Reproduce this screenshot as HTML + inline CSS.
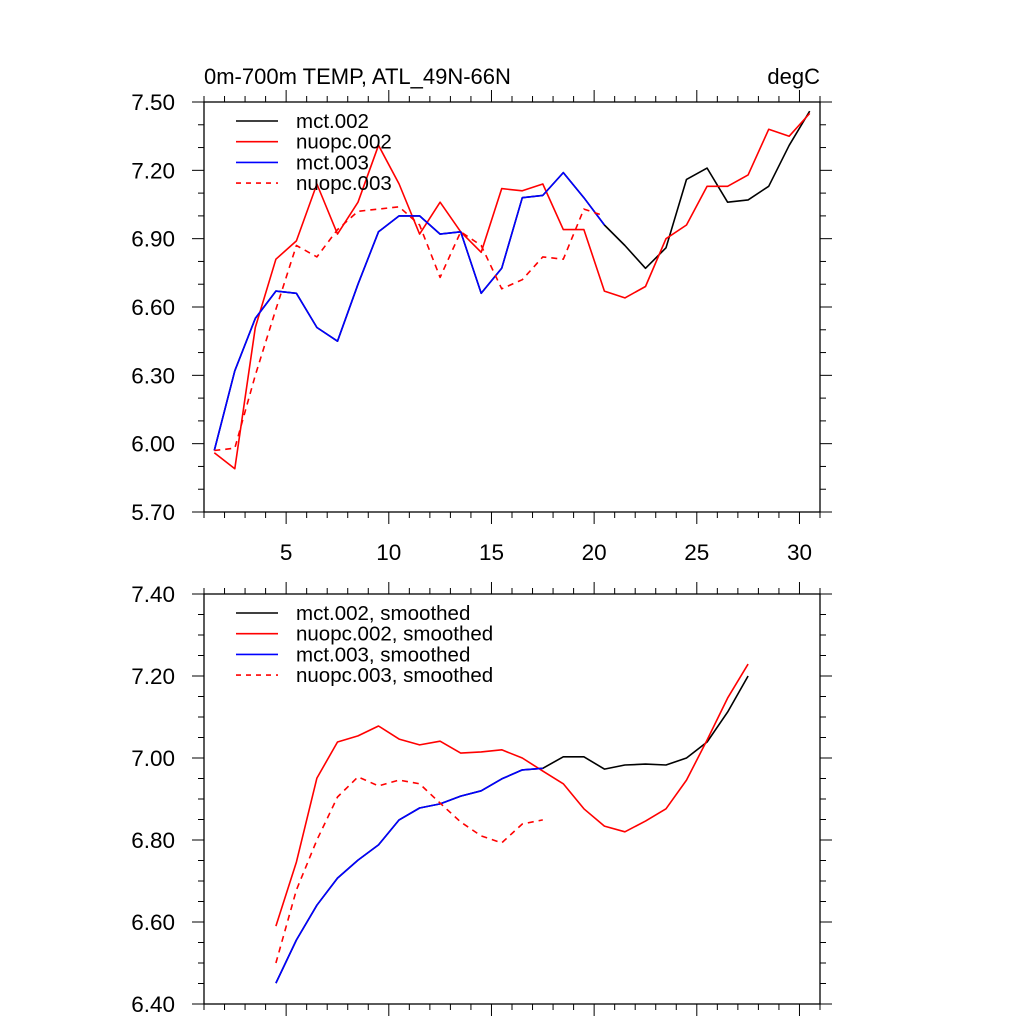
<!DOCTYPE html>
<html><head><meta charset="utf-8"><style>
html,body{margin:0;padding:0;background:#fff;}
svg{display:block;font-family:"Liberation Sans",Arial,sans-serif;}
</style></head><body>
<svg id="chart" width="1024" height="1024" viewBox="0 0 1024 1024" xmlns="http://www.w3.org/2000/svg"></svg>
<script>
// ---- data ----
const xStart = 1.5;
const top_mct002 = [5.97,6.32,6.55,6.67,6.66,6.51,6.45,6.70,6.93,7.00,7.00,6.92,6.93,6.66,6.77,7.08,7.09,7.19,7.08,6.96,6.87,6.77,6.86,7.16,7.21,7.06,7.07,7.13,7.31,7.46];
const top_nuopc002 = [5.96,5.89,6.51,6.81,6.89,7.14,6.92,7.06,7.31,7.14,6.92,7.06,6.93,6.84,7.12,7.11,7.14,6.94,6.94,6.67,6.64,6.69,6.90,6.96,7.13,7.13,7.18,7.38,7.35,7.45];
const top_mct003 = [5.97,6.32,6.55,6.67,6.66,6.51,6.45,6.70,6.93,7.00,7.00,6.92,6.93,6.66,6.77,7.08,7.09,7.19,7.08,6.96];
const top_nuopc003 = [5.97,5.98,6.30,6.59,6.87,6.82,6.94,7.02,7.03,7.04,6.96,6.73,6.93,6.87,6.68,6.72,6.82,6.81,7.03,7.00];
const smStart = 4.5;
const bot_mct002 = [6.451,6.556,6.641,6.707,6.751,6.788,6.849,6.878,6.888,6.907,6.920,6.949,6.971,6.975,7.003,7.003,6.973,6.983,6.985,6.983,7.000,7.039,7.112,7.200];
const bot_nuopc002 = [6.590,6.746,6.951,7.039,7.054,7.078,7.046,7.032,7.041,7.012,7.015,7.020,7.000,6.968,6.937,6.876,6.834,6.820,6.846,6.876,6.946,7.044,7.146,7.229];
const bot_mct003 = [6.451,6.556,6.641,6.707,6.751,6.788,6.849,6.878,6.888,6.907,6.920,6.949,6.971,6.975];
const bot_nuopc003 = [6.500,6.678,6.800,6.905,6.954,6.932,6.946,6.937,6.890,6.844,6.810,6.793,6.839,6.849];
const topYTicks = ["5.70","6.00","6.30","6.60","6.90","7.20","7.50"];
const botYTicks = ["6.40","6.60","6.80","7.00","7.20","7.40"];
const xTickLabels = ["5","10","15","20","25","30"];
const topLegend = ["mct.002","nuopc.002","mct.003","nuopc.003"];
const botLegend = ["mct.002, smoothed","nuopc.002, smoothed","mct.003, smoothed","nuopc.003, smoothed"];

const NS="http://www.w3.org/2000/svg";
const svg=document.getElementById('chart');
function mk(tag,attrs,parent){const e=document.createElementNS(NS,tag);for(const k in attrs)e.setAttribute(k,attrs[k]);(parent||svg).appendChild(e);return e;}

const L=204,R=820;
const xs=v=>L+(v-1)*(R-L)/30;
const colors=["#000","#f00","#00f","#f00"];
const dashes=[null,null,null,"6,5"];

function panel(name,T,B,ymin,ymax,minorStep,yTicks,series,start,legend,legY,showX){
  const g=mk('g',{});
  
  
  const ys=v=>B-(v-ymin)*(B-T)/(ymax-ymin);
  const frame=mk('rect',{x:L,y:T,width:R-L,height:B-T,fill:'none',stroke:'#000','stroke-width':1.3},g);
  
  
  for(let v=1;v<=31;v++){
    const x=xs(v);const major=v%5===0;const len=major?12:6;
    mk('line',{x1:x,x2:x,y1:B,y2:B+len,stroke:'#000','stroke-width':1},g);
    mk('line',{x1:x,x2:x,y1:T,y2:T-len,stroke:'#000','stroke-width':1},g);
  }
  if(showX){
    xTickLabels.forEach(s=>{
      const t=mk('text',{x:xs(+s),y:560,'font-size':22.5,'text-anchor':'middle'},g);
      t.textContent=s;
      
      
    });
  }
  const n=Math.round((ymax-ymin)/minorStep);
  const majorStep=(ymax-ymin)/(yTicks.length-1);
  for(let i=0;i<=n;i++){
    const v=ymin+i*minorStep;const y=ys(v);
    const r=((v-ymin)/majorStep);const major=Math.abs(r-Math.round(r))<1e-6;
    const len=major?12:6;
    mk('line',{x1:L,x2:L-len,y1:y,y2:y,stroke:'#000','stroke-width':1},g);
    mk('line',{x1:R,x2:R+len,y1:y,y2:y,stroke:'#000','stroke-width':1},g);
  }
  yTicks.forEach(s=>{
    const t=mk('text',{x:175,y:ys(+s)+8,'font-size':22.5,'text-anchor':'end'},g);
    t.textContent=s;
    
    
  });
  const snames=['series-mct002','series-nuopc002','series-mct003','series-nuopc003'];
  series.forEach((arr,k)=>{
    const pts=arr.map((v,i)=>xs(start+i).toFixed(1)+','+ys(v).toFixed(1)).join(' ');
    const a={points:pts,fill:'none',stroke:colors[k],'stroke-width':1.6,'stroke-linejoin':'round'};
    if(dashes[k])a['stroke-dasharray']=dashes[k];
    const p=mk('polyline',a,g);
    
    
  });
  legend.forEach((s,k)=>{
    const y=legY+k*20.7;
    const a={x1:236,x2:278,y1:y,y2:y,stroke:colors[k],'stroke-width':1.6};
    if(dashes[k])a['stroke-dasharray']='5,5';
    const ln=mk('line',a,g);
    
    
    const t=mk('text',{x:296,y:y+7,'font-size':20.5},g);
    t.textContent=s;
    
    
  });
}
panel('top-panel',102,512,5.7,7.5,0.1,topYTicks,[top_mct002,top_nuopc002,top_mct003,top_nuopc003],xStart,topLegend,121,true);
panel('bottom-panel',594,1004,6.4,7.4,0.05,botYTicks,[bot_mct002,bot_nuopc002,bot_mct003,bot_nuopc003],smStart,botLegend,613,false);

const t1=mk('text',{x:204,y:84,'font-size':22});
t1.textContent='0m-700m TEMP, ATL_49N-66N';


const t2=mk('text',{x:820,y:84,'font-size':22,'text-anchor':'end'});
t2.textContent='degC';


</script>
</body></html>
